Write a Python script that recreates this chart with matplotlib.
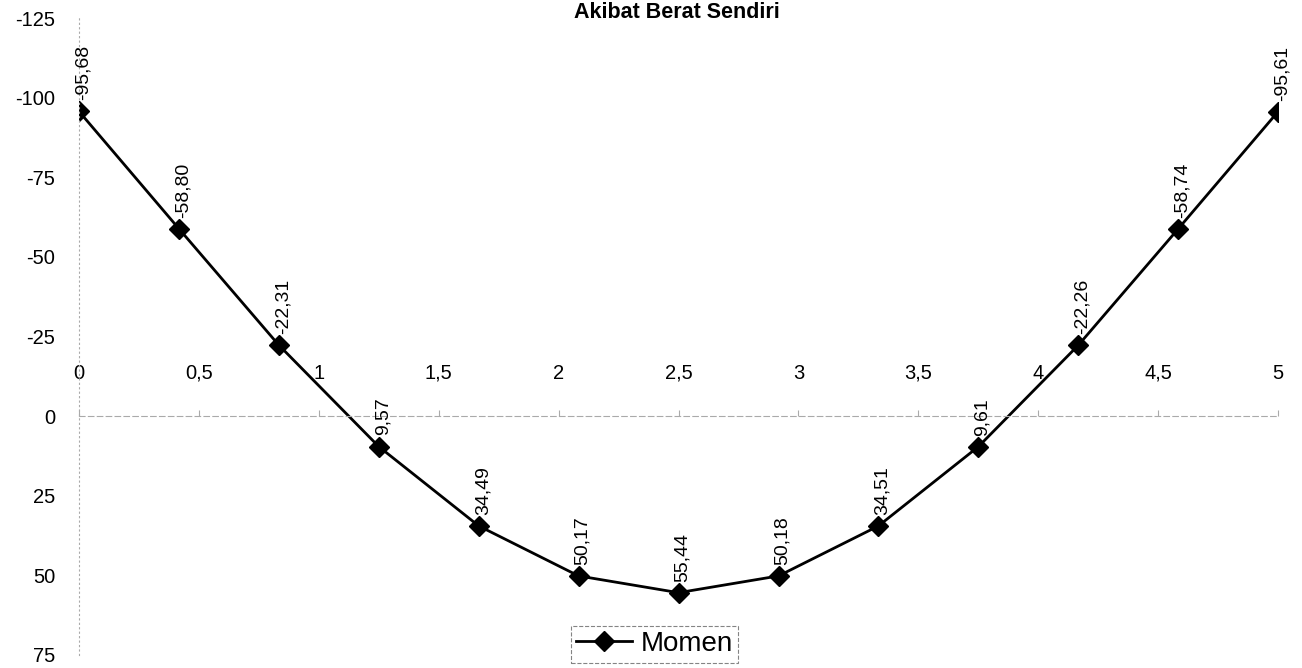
import matplotlib.pyplot as plt

plt.rcParams['font.family'] = ['Liberation Sans', 'DejaVu Sans']

# posisi titik (m) dan nilai momen
x_values = [0, 0.417, 0.833, 1.25, 1.667, 2.083, 2.5, 2.917, 3.333, 3.75, 4.167, 4.583, 5]
momen = [-95.68, -58.80, -22.31, 9.57, 34.49, 50.17, 55.44, 50.18, 34.51, 9.61, -22.26, -58.74, -95.61]

x_ticks = [0, 0.5, 1, 1.5, 2, 2.5, 3, 3.5, 4, 4.5, 5]
y_ticks = [-125, -100, -75, -50, -25, 0, 25, 50, 75]

fig = plt.figure(figsize=(13.02, 6.68), dpi=100)
ax = fig.add_axes([0.0607, 0.0195, 0.9209, 0.9535])

ax.plot(x_values, momen, color='black', linewidth=2, marker='D', markersize=10.5,
        markerfacecolor='black', label='Momen')

for x, y in zip(x_values, momen):
    ax.annotate(f"{y:.2f}".replace('.', ','), (x, y), xytext=(3, 8),
                textcoords='offset points', rotation=90, ha='center', va='bottom',
                fontsize=14)

ax.set_xlim(0, 5)
ax.set_ylim(75, -125)

# sumbu x di y = 0, label di atas garis
ax.spines['bottom'].set_visible(False)
ax.spines['right'].set_visible(False)
ax.spines['top'].set_position(('data', 0))
ax.spines['top'].set_color('#aaaaaa')
ax.spines['top'].set_linestyle((0, (5, 3)))
ax.spines['top'].set_linewidth(0.8)
ax.spines['left'].set_color('#aaaaaa')
ax.spines['left'].set_linestyle((0, (1, 3)))
ax.spines['left'].set_linewidth(0.8)

ax.xaxis.tick_top()
ax.set_xticks(x_ticks)
ax.set_xticklabels([str(t).replace('.', ',') for t in x_ticks])
ax.set_yticks(y_ticks)
ax.set_yticklabels([str(t) for t in y_ticks])
ax.tick_params(axis='x', length=4, color='#aaaaaa', labelsize=14.5, pad=20)
ax.tick_params(axis='y', length=0, labelsize=14.5, pad=17)

fig.text(0.52, 0.982, 'Akibat Berat Sendiri', ha='center', va='center',
         fontsize=15.5, fontweight='bold')

leg = ax.legend(loc='center', bbox_to_anchor=(0.48, 0.017), fontsize=20,
                frameon=True, fancybox=False, handlelength=2.0,
                borderpad=0.2, handletextpad=0.3, borderaxespad=0)
leg.get_frame().set_edgecolor('#666666')
leg.get_frame().set_linestyle('--')
leg.get_frame().set_linewidth(0.8)

plt.savefig('out.png', dpi=100)
